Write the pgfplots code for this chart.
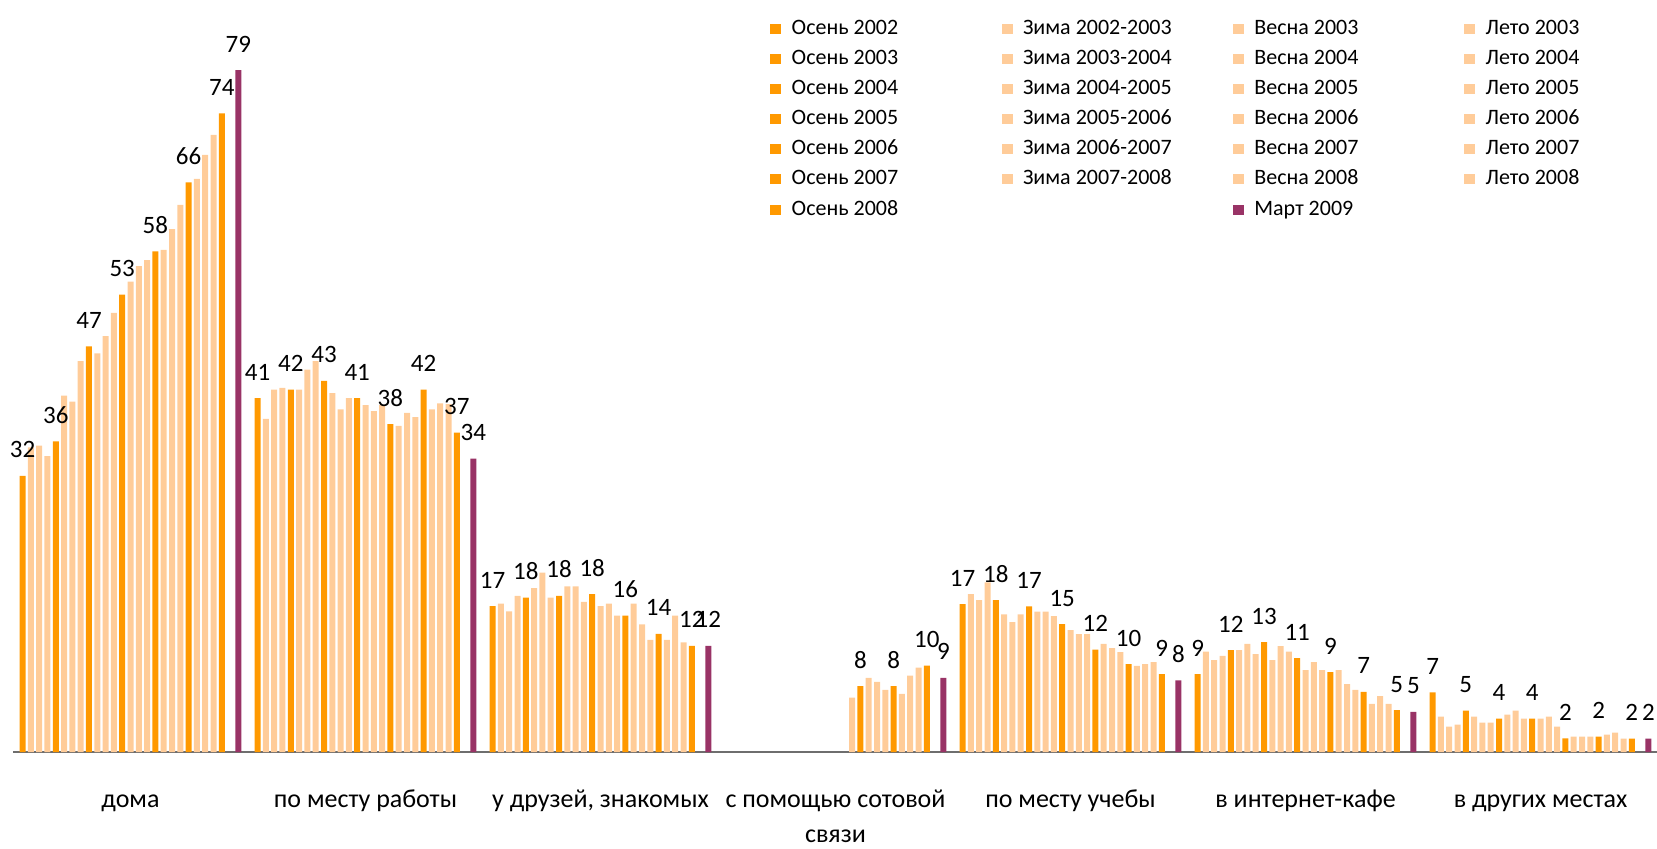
\documentclass[border=0pt]{standalone}
\usepackage{pgfplots}
\usepackage{pgfplotstable}
\usepackage{fontspec}
\pgfplotsset{compat=1.18}
\setmainfont{Carlito}
\newcommand\labfont{\fontsize{25}{29}\selectfont}
\newcommand\legfont{\fontsize{22}{26}\selectfont}
\newcommand\catfont{\fontsize{26}{35}\selectfont}
\definecolor{cO}{RGB}{255,153,0}
\definecolor{cL}{RGB}{255,204,153}
\definecolor{cM}{RGB}{153,51,102}
\definecolor{cAx}{RGB}{110,110,110}
\pgfplotsset{
  legend image code/.code={\fill[#1,draw=none] (0pt,-5pt) rectangle (11pt,5pt);},
  barO/.style={ybar, bar width=6pt, draw=none, fill=cO, forget plot, bar shift=#1, lab=#1},
  barL/.style={ybar, bar width=6pt, draw=none, fill=cL, forget plot, bar shift=#1},
  barM/.style={ybar, bar width=6pt, draw=none, fill=cM, forget plot, bar shift=#1, lab=#1},
  lab/.style={nodes near coords={\pgfmathprintnumber[fixed,precision=0,assume math mode=true]{\pgfplotspointmeta}},
    every node near coord/.append style={anchor=base, xshift=#1, yshift=18pt, inner sep=0pt, font=\labfont, text=black}},
}
\newcommand\LE[2]{\addlegendimage{fill=#1}\addlegendentry{\hspace*{10.3pt}\makebox[210pt][l]{#2}}}
% rows: categories; columns: series slots 0..24 (Осень 2002 ... Осень 2008) and Март 2009
\pgfplotstableread{
c s0 s1 s2 s3 s4 s5 s6 s7 s8 s9 s10 s11 s12 s13 s14 s15 s16 s17 s18 s19 s20 s21 s22 s23 s24 m
0 32 35.3 35.5 34.3 36 41.3 40.6 45.3 47 46.2 48.2 50.9 53 54.5 56.3 57 58 58.2 60.6 63.4 66 66.4 69.2 71.5 74 79
1 41 38.6 42 42.2 42 42 44.3 45.3 43 41.6 39.7 41 41 40.2 39.5 40.2 38 37.8 39.3 38.8 42 39.7 40.4 40.3 37 34
2 16.9 17.2 16.3 18.1 17.9 19 20.8 17.9 18.1 19.2 19.2 17.4 18.3 16.9 17.2 15.8 15.8 17.2 14.8 13 13.7 13 15.8 12.7 12.3 12.3
3 nan nan nan nan nan nan nan nan nan nan nan nan nan nan nan 6.3 7.65 8.58 8.12 7.19 7.65 6.73 8.85 9.78 10.0 8.58
4 17.15 18.3 17.6 19.66 17.6 15.95 15.06 15.95 16.88 16.26 16.26 15.76 14.83 14.14 13.67 13.67 11.86 12.52 12.05 11.59 10.2 9.97 10.2 10.43 9.04 8.31
5 9.04 11.63 10.66 11.13 11.82 11.82 12.52 11.36 12.75 10.66 12.28 11.63 10.89 9.5 10.43 9.5 9.27 9.5 7.88 7.19 6.96 5.57 6.49 5.57 4.87 4.64
6 6.92 4.1 2.94 3.17 4.79 4.1 3.4 3.4 3.87 4.33 4.79 3.87 3.87 3.87 4.1 2.94 1.59 1.78 1.78 1.78 1.78 2.01 2.25 1.55 1.55 1.55
}\data
\begin{document}
\begin{tikzpicture}
\begin{axis}[
  scale only axis, width=1645pt, height=752pt,
  xmin=-0.5, xmax=6.5, ymin=0, ymax=87.14,
  axis y line=none, axis x line=bottom,
  x axis line style={-, draw=cAx, line width=2pt},
  xtick={0,...,6}, major tick length=0pt, ytick=\empty,
  xticklabels={{\rule{0pt}{20pt}дома}, {\rule{0pt}{20pt}по месту работы}, {\rule{0pt}{20pt}у друзей, знакомых}, {\rule{0pt}{20pt}с помощью сотовой\\связи}, {\rule{0pt}{20pt}по месту учебы}, {\rule{0pt}{20pt}в интернет-кафе}, {\rule{0pt}{20pt}в других местах}},
  xticklabel style={font=\catfont, align=center, anchor=north, inner sep=0pt, yshift=-35pt},
  clip=false,
  legend columns=4, legend cell align=left,
  legend style={at={(axis description cs:0.46043,0.9755)}, anchor=north west, draw=none, fill=none,
    inner sep=0pt, outer sep=0pt, row sep=9.1pt, column sep=0pt,
    nodes={inner sep=0pt, outer sep=0pt, anchor=west, text height=16pt, text depth=5pt, font=\legfont}},
]
\addplot[barO=-107.9pt] table[x=c,y=s0]{\data};
\addplot[barL=-99.6pt] table[x=c,y=s1]{\data};
\addplot[barL=-91.3pt] table[x=c,y=s2]{\data};
\addplot[barL=-83.0pt] table[x=c,y=s3]{\data};
\addplot[barO=-74.7pt] table[x=c,y=s4]{\data};
\addplot[barL=-66.4pt] table[x=c,y=s5]{\data};
\addplot[barL=-58.1pt] table[x=c,y=s6]{\data};
\addplot[barL=-49.8pt] table[x=c,y=s7]{\data};
\addplot[barO=-41.5pt] table[x=c,y=s8]{\data};
\addplot[barL=-33.2pt] table[x=c,y=s9]{\data};
\addplot[barL=-24.9pt] table[x=c,y=s10]{\data};
\addplot[barL=-16.6pt] table[x=c,y=s11]{\data};
\addplot[barO=-8.3pt] table[x=c,y=s12]{\data};
\addplot[barL=0pt] table[x=c,y=s13]{\data};
\addplot[barL=8.3pt] table[x=c,y=s14]{\data};
\addplot[barL=16.6pt] table[x=c,y=s15]{\data};
\addplot[barO=24.9pt] table[x=c,y=s16]{\data};
\addplot[barL=33.2pt] table[x=c,y=s17]{\data};
\addplot[barL=41.5pt] table[x=c,y=s18]{\data};
\addplot[barL=49.8pt] table[x=c,y=s19]{\data};
\addplot[barO=58.1pt] table[x=c,y=s20]{\data};
\addplot[barL=66.4pt] table[x=c,y=s21]{\data};
\addplot[barL=74.7pt] table[x=c,y=s22]{\data};
\addplot[barL=83.0pt] table[x=c,y=s23]{\data};
\addplot[barO=91.3pt] table[x=c,y=s24]{\data};
\addplot[barM=107.9pt] table[x=c,y=m]{\data};
\LE{cO}{Осень 2002}\LE{cL}{Зима 2002-2003}\LE{cL}{Весна 2003}\LE{cL}{Лето 2003}
\LE{cO}{Осень 2003}\LE{cL}{Зима 2003-2004}\LE{cL}{Весна 2004}\LE{cL}{Лето 2004}
\LE{cO}{Осень 2004}\LE{cL}{Зима 2004-2005}\LE{cL}{Весна 2005}\LE{cL}{Лето 2005}
\LE{cO}{Осень 2005}\LE{cL}{Зима 2005-2006}\LE{cL}{Весна 2006}\LE{cL}{Лето 2006}
\LE{cO}{Осень 2006}\LE{cL}{Зима 2006-2007}\LE{cL}{Весна 2007}\LE{cL}{Лето 2007}
\LE{cO}{Осень 2007}\LE{cL}{Зима 2007-2008}\LE{cL}{Весна 2008}\LE{cL}{Лето 2008}
\LE{cO}{Осень 2008}\addlegendimage{empty legend}\addlegendentry{}\LE{cM}{Март 2009}
\end{axis}
\pgfresetboundingbox
\path[use as bounding box] ([shift={(-13pt,-96pt)}]current axis.south west) rectangle ([shift={(-1pt,0pt)}]current axis.north east);
\end{tikzpicture}
\end{document}
